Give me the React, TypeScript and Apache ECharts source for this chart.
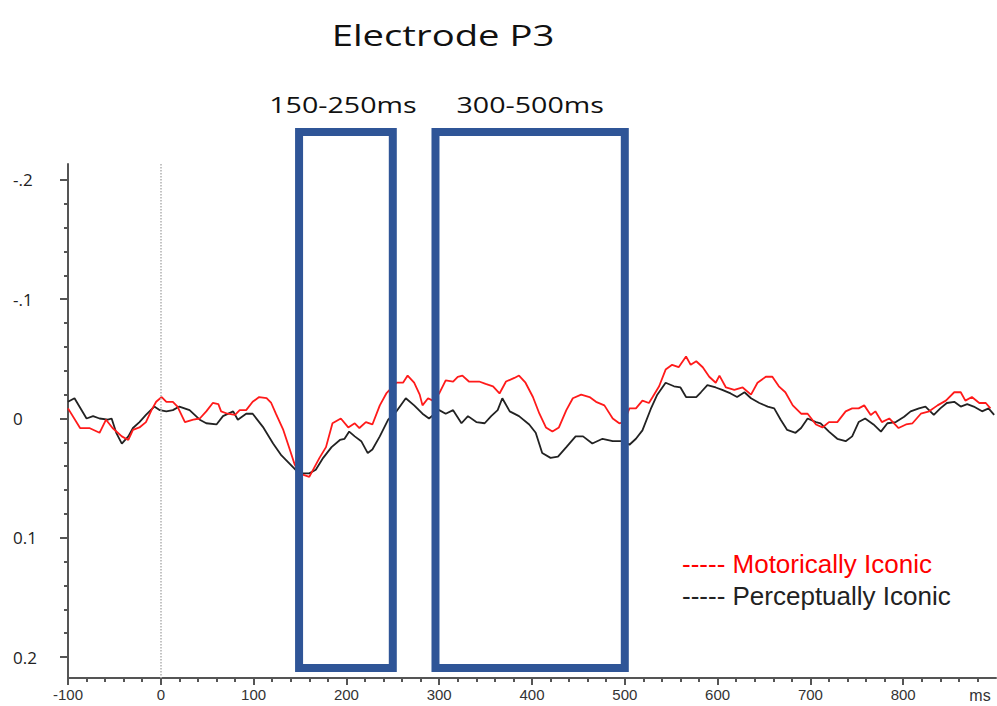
import React, { useEffect, useRef } from "react";
import * as echarts from "echarts";

// ---------- data ----------
const titleText = "Electrode P3";
const windowLabels = ["150-250ms", "300-500ms"];
const windowStartMs = [149, 296];
const windowEndMs = [250, 500];
const seriesNames = ["Motorically Iconic", "Perceptually Iconic"];
const unitLabel = "ms";

const xTickValues = [-100, 0, 100, 200, 300, 400, 500, 600, 700, 800];
const yTickValues = [-0.2, -0.1, 0, 0.1, 0.2];
const yTickLabels = ["-.2", "-.1", "0", "0.1", "0.2"];

const motorTimes = [
  -100, -87, -77, -66, -59, -52, -42, -35, -30, -23,
  -16, -10, -5, 1, 6, 13, 18, 26, 35, 42,
  49, 56, 62, 65, 72, 80, 85, 92, 99, 106,
  114, 119, 124, 132, 139, 144, 149, 160, 171, 178,
  185, 194, 202, 209, 214, 221, 228, 236, 243, 254,
  261, 266, 273, 279, 282, 288, 293, 300, 307, 315,
  320, 325, 332, 343, 350, 358, 365, 372, 381, 386,
  393, 401, 408, 415, 422, 429, 437, 444, 453, 462,
  469, 478, 487, 494, 499, 505, 512, 519, 526, 530,
  537, 544, 551, 558, 566, 571, 577, 584, 591, 598,
  602, 609, 618, 627, 636, 643, 652, 659, 666, 673,
  681, 690, 697, 706, 713, 720, 729, 738, 745, 752,
  758, 765, 770, 777, 785, 795, 803, 810, 819, 828,
  837, 846, 855, 862, 867, 874, 882, 889, 894,
];
const motorValues = [
  -0.0085, 0.008, 0.008, 0.012, 0.001, 0.008, 0.015, 0.018, 0.0096, 0.0075,
  0.003, -0.007, -0.014, -0.018, -0.014, -0.014, -0.01, 0.003, 0.001, 0,
  -0.006, -0.013, -0.012, -0.006, -0.004, -0.003, -0.007, -0.007, -0.014, -0.018,
  -0.017, -0.013, -0.004, 0.0096, 0.026, 0.038, 0.046, 0.049, 0.033, 0.024,
  0.004, 0, 0.0075, 0.004, 0.008, 0.003, 0.005, -0.011, -0.021, -0.03,
  -0.03, -0.036, -0.03, -0.02, -0.011, -0.017, -0.015, -0.021, -0.032, -0.031,
  -0.035, -0.036, -0.031, -0.031, -0.029, -0.027, -0.021, -0.031, -0.034, -0.036,
  -0.03, -0.018, -0.004, 0.0075, 0.011, 0.0075, -0.007, -0.017, -0.02, -0.018,
  -0.014, -0.011, 0, 0.004, 0.003, -0.0085, -0.0085, -0.015, -0.013, -0.018,
  -0.027, -0.041, -0.045, -0.043, -0.052, -0.045, -0.048, -0.043, -0.035, -0.03,
  -0.036, -0.026, -0.024, -0.026, -0.02, -0.03, -0.035, -0.035, -0.027, -0.022,
  -0.011, -0.004, -0.004, 0.005, 0.0075, 0.003, 0.003, -0.006, -0.0085, -0.0085,
  -0.011, -0.003, -0.006, 0.003, 0, 0.008, 0.005, 0.004, -0.004, -0.006,
  -0.011, -0.015, -0.022, -0.022, -0.015, -0.018, -0.013, -0.013, -0.0085,
];

const perceptTimes = [
  -100, -93, -80, -73, -66, -57, -53, -48, -42, -35,
  -30, -23, -16, -7, -1, 6, 13, 20, 31, 42,
  49, 60, 67, 78, 83, 92, 99, 110, 121, 130,
  139, 144, 149, 160, 167, 175, 184, 193, 198, 203,
  209, 216, 223, 228, 236, 245, 254, 264, 273, 282,
  289, 300, 307, 315, 324, 331, 340, 349, 356, 363,
  368, 376, 386, 397, 404, 411, 420, 428, 437, 447,
  455, 465, 476, 487, 498, 505, 512, 519, 528, 535,
  544, 553, 560, 566, 577, 582, 589, 598, 605, 614,
  621, 629, 636, 645, 654, 661, 668, 675, 684, 690,
  697, 706, 711, 720, 729, 738, 745, 752, 759, 768,
  776, 783, 792, 801, 808, 817, 824, 833, 840, 847,
  855, 862, 869, 876, 885, 892, 898,
];
const perceptValues = [
  -0.014, -0.017, 0, -0.002, 0, 0.001, 0, 0.012, 0.021, 0.015,
  0.008, 0.003, -0.003, -0.01, -0.007, -0.006, -0.007, -0.01, -0.007, 0.001,
  0.004, 0.005, -0.002, -0.006, 0.001, -0.004, -0.004, 0.007, 0.021, 0.031,
  0.038, 0.042, 0.046, 0.046, 0.043, 0.033, 0.024, 0.018, 0.017, 0.011,
  0.015, 0.019, 0.029, 0.026, 0.015, 0.001, -0.006, -0.017, -0.011, -0.004,
  0, -0.007, -0.004, -0.007, 0.004, -0.002, 0.003, 0.004, -0.002, -0.007,
  -0.017, -0.006, -0.002, 0.005, 0.012, 0.029, 0.033, 0.032, 0.024, 0.015,
  0.015, 0.021, 0.017, 0.019, 0.019, 0.022, 0.017, 0.01, -0.008, -0.02,
  -0.03, -0.027, -0.026, -0.018, -0.018, -0.022, -0.028, -0.026, -0.024, -0.021,
  -0.018, -0.022, -0.017, -0.013, -0.01, -0.0085, 0.001, 0.0096, 0.012, 0.008,
  0, 0.003, 0.004, 0.011, 0.017, 0.019, 0.015, 0.003, 0, 0.005,
  0.011, 0.004, 0.003, -0.0015, -0.006, -0.0085, -0.01, -0.003, -0.0085, -0.013,
  -0.014, -0.01, -0.012, -0.01, -0.006, -0.0085, -0.003,
];

// ---------- layout / style ----------
const W = 997;
const H = 706;
const X_MIN = -100;
const X_MAX = 900;
const Y_MIN = -0.2134;
const Y_MAX = 0.2176;
const BOX_TOP = 132;
const BOX_BOTTOM = 668;
const BOX_COLOR = "#2F5597";
const AXIS_COLOR = "#555";

const xMinorTicks: number[] = [];
for (let v = -80; v <= 880; v += 20) if (v % 100 !== 0) xMinorTicks.push(v);
const yMinorTicks: number[] = [];
for (let i = -10; i <= 10; i++) if (i % 5 !== 0) yMinorTicks.push(i / 50);

const pairs = (t: number[], v: number[]) => t.map((x, i) => [x, v[i]]);

export default function App() {
  const ref = useRef<HTMLDivElement>(null);

  useEffect(() => {
    if (!ref.current) return;
    const chart = echarts.init(ref.current, undefined, { renderer: "svg" });

    const axisLineStyle = { color: AXIS_COLOR, width: 2 };

    chart.setOption({
      animation: false,
      backgroundColor: "#ffffff",
      grid: { left: 68, right: W - 996, top: 164, bottom: H - 678 },
      legend: {
        orient: "vertical",
        left: 672,
        top: 546,
        icon: "none",
        itemWidth: 0,
        itemHeight: 14,
        itemGap: 6,
        selectedMode: false,
        formatter: (n: string) => "----- " + n,
        textStyle: { fontFamily: "Liberation Sans", fontSize: 26 },
        data: [
          { name: seriesNames[0], textStyle: { color: "#ff0000" } },
          { name: seriesNames[1], textStyle: { color: "#222222" } },
        ],
      },
      xAxis: [
        {
          type: "value",
          min: X_MIN,
          max: X_MAX,
          position: "bottom",
          axisLine: { show: true, onZero: false, lineStyle: axisLineStyle },
          axisTick: { show: true, length: 7, customValues: xTickValues, lineStyle: axisLineStyle },
          axisLabel: {
            customValues: xTickValues,
            fontFamily: "Liberation Sans",
            fontSize: 15,
            color: "#333",
            margin: 9,
          },
          splitLine: { show: false },
        },
        {
          type: "value",
          min: X_MIN,
          max: X_MAX,
          position: "bottom",
          offset: 0,
          axisLine: { show: false, onZero: false },
          axisTick: { show: true, length: 4, customValues: xMinorTicks, lineStyle: axisLineStyle },
          axisLabel: { show: false },
          splitLine: { show: false },
        },
      ],
      yAxis: [
        {
          type: "value",
          inverse: true,
          min: Y_MIN,
          max: Y_MAX,
          position: "left",
          axisLine: { show: true, onZero: false, lineStyle: axisLineStyle },
          axisTick: { show: true, length: 8, customValues: yTickValues, lineStyle: axisLineStyle },
          axisLabel: {
            customValues: yTickValues,
            formatter: (v: number) => {
              const i = yTickValues.findIndex((t) => Math.abs(t - v) < 1e-6);
              return i >= 0 ? yTickLabels[i] : "";
            },
            align: "left",
            margin: 55,
            fontFamily: "Open Sans",
            fontSize: 17,
            color: "#222",
          },
          splitLine: { show: false },
        },
        {
          type: "value",
          inverse: true,
          min: Y_MIN,
          max: Y_MAX,
          position: "left",
          offset: 0,
          axisLine: { show: false, onZero: false },
          axisTick: { show: true, length: 4, customValues: yMinorTicks, lineStyle: axisLineStyle },
          axisLabel: { show: false },
          splitLine: { show: false },
        },
      ],
      series: [
        {
          name: seriesNames[1],
          type: "line",
          data: pairs(perceptTimes, perceptValues),
          showSymbol: false,
          symbol: "none",
          lineStyle: { color: "#222222", width: 1.8 },
          itemStyle: { color: "#222222" },
          z: 3,
          markLine: {
            silent: true,
            symbol: "none",
            label: { show: false },
            lineStyle: { color: "#b0b0b0", type: "dotted", width: 1.5 },
            data: [{ xAxis: 0 }],
          },
        },
        {
          name: seriesNames[0],
          type: "line",
          data: pairs(motorTimes, motorValues),
          showSymbol: false,
          symbol: "none",
          lineStyle: { color: "#ff1a1a", width: 1.8 },
          itemStyle: { color: "#ff1a1a" },
          z: 4,
        },
      ],
    });

    const px = (v: number) => chart.convertToPixel({ xAxisIndex: 0 }, v) as number;
    const boxes = windowStartMs.map((s, i) => {
      const x0 = px(s);
      const x1 = px(windowEndMs[i]);
      return { x0, x1 };
    });

    const graphics: any[] = [];
    boxes.forEach((b, i) => {
      graphics.push({
        type: "rect",
        z: 100,
        silent: true,
        shape: { x: b.x0, y: BOX_TOP, width: b.x1 - b.x0, height: BOX_BOTTOM - BOX_TOP },
        style: { fill: "none", stroke: BOX_COLOR, lineWidth: 8 },
      });
      graphics.push({
        type: "text",
        z: 100,
        x: (b.x0 + b.x1) / 2 + (i === 0 ? -3 : 0),
        y: 104,
        scaleX: 1.3,
        style: {
          text: windowLabels[i],
          fontFamily: "Open Sans",
          fontSize: 22,
          fill: "#111",
          align: "center",
          verticalAlign: "middle",
          textAlign: "center",
          textVerticalAlign: "middle",
        },
      });
    });
    graphics.push({
      type: "text",
      x: 443,
      y: 35,
      scaleX: 1.32,
      style: {
        text: titleText,
        fontFamily: "Open Sans",
        fontSize: 29,
        fill: "#111",
        align: "center",
        verticalAlign: "middle",
        textAlign: "center",
        textVerticalAlign: "middle",
      },
    });
    graphics.push({
      type: "text",
      x: 980,
      y: 695,
      style: {
        text: unitLabel,
        fontFamily: "Liberation Sans",
        fontSize: 16,
        fill: "#333",
        align: "center",
        verticalAlign: "middle",
        textAlign: "center",
        textVerticalAlign: "middle",
      },
    });

    chart.setOption({ graphic: graphics });

    return () => chart.dispose();
  }, []);

  return (
    <div
      ref={ref}
      style={{ position: "absolute", left: 0, top: 0, width: W, height: H }}
    />
  );
}
